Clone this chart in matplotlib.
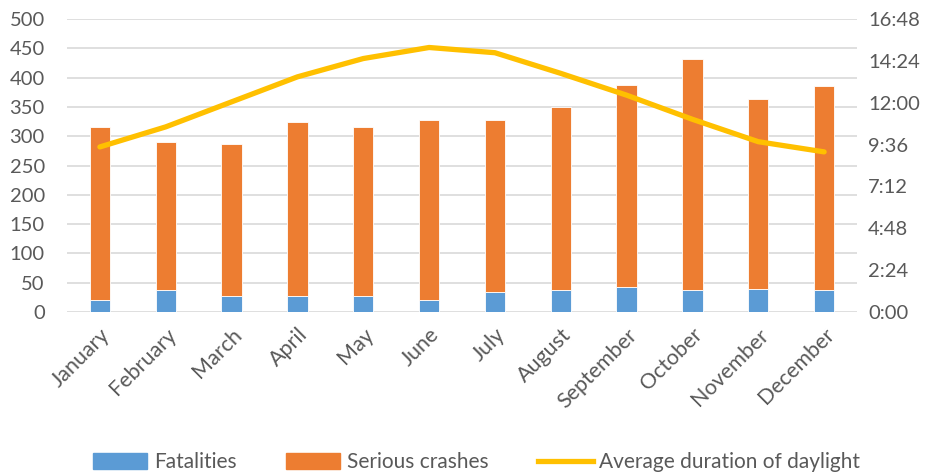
import matplotlib
matplotlib.use("Agg")
import matplotlib.pyplot as plt
from matplotlib.patches import Patch
from matplotlib.lines import Line2D
from matplotlib.ticker import FuncFormatter, MultipleLocator

months = ["January", "February", "March", "April", "May", "June", "July",
          "August", "September", "October", "November", "December"]
fatalities = [20, 38, 28, 27, 28, 20, 35, 38, 42, 38, 40, 38]
serious_crashes = [296, 252, 259, 298, 288, 307, 292, 312, 346, 393, 324, 348]
# average daylight duration in minutes
daylight_min = [568, 637, 723, 809, 872, 910, 892, 821, 746, 663, 586, 551]

plt.rcParams['font.family'] = ['Lato', 'DejaVu Sans']
grey = '#595959'
blue = '#5B9BD5'
orange = '#ED7D31'
gold = '#FFC000'

fig = plt.figure(figsize=(9.38, 4.75), dpi=100)
ax = fig.add_axes([0.0714, 0.343, 0.8423, 0.617])
x = list(range(len(months)))
w = 0.31
ax.bar(x, fatalities, width=w, color=blue, edgecolor='white', linewidth=0.6, zorder=3)
ax.bar(x, serious_crashes, width=w, bottom=fatalities, color=orange,
       edgecolor='white', linewidth=0.6, zorder=3)
ax.set_xlim(-0.5, 11.5)
ax.set_ylim(0, 500)
ax.yaxis.set_major_locator(MultipleLocator(50))
ax.grid(axis='y', color='#d9d9d9', linewidth=1.2, zorder=0)
ax.set_axisbelow(True)
for s in ax.spines.values():
    s.set_visible(False)
ax.tick_params(axis='both', length=0, labelsize=14.5, colors=grey)
ax.tick_params(axis='y', pad=16)
ax.set_xticks(x)
ax.set_xticklabels(months, rotation=45, ha='right', rotation_mode='anchor', fontsize=15.5)
ax.tick_params(axis='x', pad=9)

ax2 = ax.twinx()
ax2.plot(x, daylight_min, color=gold, linewidth=3.8, solid_capstyle='round', zorder=4)
ax2.set_ylim(0, 1008)
ax2.yaxis.set_major_locator(MultipleLocator(144))
ax2.yaxis.set_major_formatter(FuncFormatter(lambda v, p: f"{int(v)//60}:{int(v)%60:02d}"))
for s in ax2.spines.values():
    s.set_visible(False)
ax2.tick_params(axis='y', length=0, labelsize=14.5, colors=grey, pad=8)

handles = [Patch(color=blue), Patch(color=orange),
           Line2D([0], [0], color=gold, linewidth=3.8)]
fig.legend(handles, ["Fatalities", "Serious crashes", "Average duration of daylight"],
           loc='center', bbox_to_anchor=(0.508, 0.027), ncol=3, frameon=False,
           fontsize=15, labelcolor=grey, handlelength=2.6, handleheight=0.8,
           columnspacing=2.4, handletextpad=0.3)

fig.savefig("out.png", dpi=100)
